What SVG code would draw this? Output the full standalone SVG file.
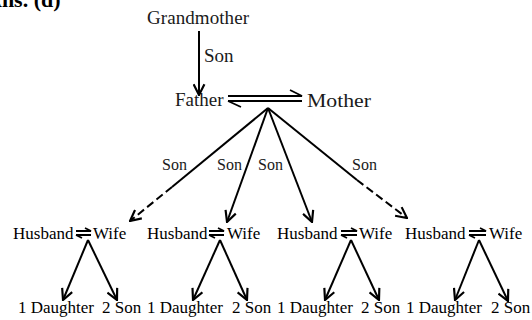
<svg xmlns="http://www.w3.org/2000/svg" width="532" height="320" viewBox="0 0 532 320">
<defs>
<style>
.t{font-family:"Liberation Serif","Times New Roman",serif;fill:#1a1a1a}
.big{font-size:19px}
.mid{font-size:17px;fill:#000}
.lbl{font-size:16px}
.ln{stroke:#000;stroke-width:2;fill:none}
.thin{stroke:#000;stroke-width:1.8;fill:none}
.ans{font-family:"Liberation Serif","Times New Roman",serif;font-size:22px;font-weight:bold;fill:#000}
</style>
<marker id="ah" viewBox="0 0 12 12" refX="11" refY="6" markerWidth="13" markerHeight="13" markerUnits="userSpaceOnUse" orient="auto">
<path d="M1,1 L11,6 L1,11" fill="none" stroke="#000" stroke-width="2"/>
</marker>
</defs>
<rect width="532" height="320" fill="#fff"/>
<text class="ans" x="-14" y="7">Ans. (d)</text>

<g id="grandmother"><text class="t big" x="147" y="24" textLength="102">Grandmother</text></g>
<g id="father"><text class="t big" x="175" y="106">Father</text></g>
<g id="mother"><text class="t big" x="307" y="107" textLength="64" lengthAdjust="spacingAndGlyphs">Mother</text></g>

<g id="pair1">
<text class="t mid" x="13" y="239">Husband</text>
<text class="t mid" x="93" y="239">Wife</text>
<path class="thin" d="M76,231 H91 L85,228 M76,235 H91 M76,235 L82,238"/>
</g>
<g id="pair2">
<text class="t mid" x="147" y="239">Husband</text>
<text class="t mid" x="227" y="239">Wife</text>
<path class="thin" d="M209,231 H224 L218,228 M209,235 H224 M209,235 L215,238"/>
</g>
<g id="pair3">
<text class="t mid" x="277" y="239">Husband</text>
<text class="t mid" x="359" y="239">Wife</text>
<path class="thin" d="M341,231 H357 L351,228 M341,235 H357 M341,235 L347,238"/>
</g>
<g id="pair4">
<text class="t mid" x="405" y="239">Husband</text>
<text class="t mid" x="489" y="239">Wife</text>
<path class="thin" d="M469,231 H486 L480,228 M469,235 H486 M469,235 L475,238"/>
</g>

<g id="children1"><text class="t mid" x="18" y="313">1 Daughter</text><text class="t mid" x="102" y="313">2 Son</text></g>
<g id="children2"><text class="t mid" x="147" y="313">1 Daughter</text><text class="t mid" x="232" y="313">2 Son</text></g>
<g id="children3"><text class="t mid" x="277" y="313">1 Daughter</text><text class="t mid" x="361" y="313">2 Son</text></g>
<g id="children4"><text class="t mid" x="406" y="313">1 Daughter</text><text class="t mid" x="491" y="313">2 Son</text></g>

<g id="connectors">
<line class="ln" x1="199" y1="31" x2="199" y2="95" marker-end="url(#ah)"/>
<text class="t big" x="204" y="62">Son</text>
<path class="thin" d="M228,96 H302 L290,90 M228,101 H302 M228,101 L241,107"/>

<line class="ln" x1="268" y1="108" x2="172" y2="187"/>
<line class="ln" x1="172" y1="187" x2="130" y2="221" stroke-dasharray="8 4" marker-end="url(#ah)"/>
<line class="ln" x1="268" y1="108" x2="227" y2="222" marker-end="url(#ah)"/>
<line class="ln" x1="268" y1="108" x2="312" y2="222" marker-end="url(#ah)"/>
<line class="ln" x1="268" y1="108" x2="357" y2="180"/>
<line class="ln" x1="357" y1="180" x2="407" y2="218" stroke-dasharray="8 4" marker-end="url(#ah)"/>
<text class="t lbl" x="162" y="170">Son</text>
<text class="t lbl" x="217" y="170">Son</text>
<text class="t lbl" x="258" y="170">Son</text>
<text class="t lbl" x="352" y="170">Son</text>

<line class="ln" x1="88" y1="240" x2="63" y2="300" marker-end="url(#ah)"/>
<line class="ln" x1="88" y1="240" x2="117" y2="300" marker-end="url(#ah)"/>
<line class="ln" x1="220" y1="240" x2="193" y2="300" marker-end="url(#ah)"/>
<line class="ln" x1="220" y1="240" x2="247" y2="300" marker-end="url(#ah)"/>
<line class="ln" x1="351" y1="240" x2="325" y2="300" marker-end="url(#ah)"/>
<line class="ln" x1="351" y1="240" x2="379" y2="300" marker-end="url(#ah)"/>
<line class="ln" x1="479" y1="240" x2="455" y2="300" marker-end="url(#ah)"/>
<line class="ln" x1="479" y1="240" x2="508" y2="301" marker-end="url(#ah)"/>
</g>
</svg>
